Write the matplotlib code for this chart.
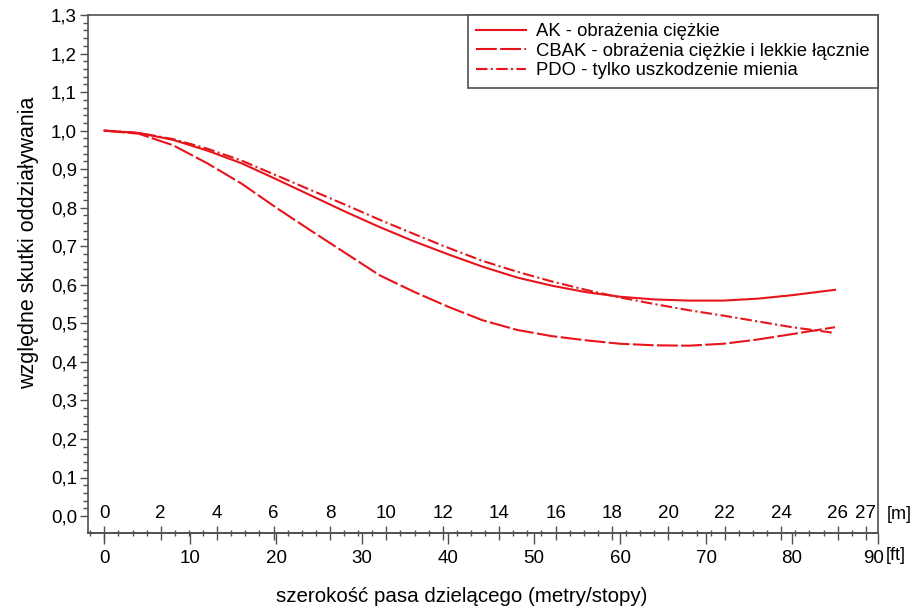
import matplotlib
matplotlib.use("Agg")
import matplotlib.pyplot as plt
import matplotlib.transforms as mtransforms
from matplotlib.ticker import FixedLocator, MultipleLocator, FuncFormatter

plt.rcParams['font.family'] = ['Liberation Sans', 'DejaVu Sans']

# median width in feet
width_ft = [0, 4, 8, 12, 16, 20, 24, 28, 32, 36, 40, 44, 48, 52, 56, 60, 64, 68, 72, 76, 80, 85]

ak = [1.000, 0.994, 0.976, 0.948, 0.915, 0.874, 0.832, 0.790, 0.750, 0.713, 0.679,
      0.647, 0.619, 0.598, 0.581, 0.569, 0.562, 0.559, 0.559, 0.564, 0.573, 0.587]
cbak = [1.000, 0.992, 0.962, 0.915, 0.862, 0.800, 0.741, 0.683, 0.625, 0.582, 0.543,
        0.508, 0.483, 0.467, 0.456, 0.447, 0.443, 0.442, 0.447, 0.458, 0.472, 0.490]
pdo = [1.000, 0.994, 0.978, 0.953, 0.922, 0.884, 0.846, 0.808, 0.769, 0.732, 0.696,
       0.662, 0.634, 0.609, 0.587, 0.567, 0.550, 0.534, 0.520, 0.505, 0.490, 0.475]

labels = ["AK - obrażenia ciężkie",
          "CBAK - obrażenia ciężkie i lekkie łącznie",
          "PDO - tylko uszkodzenie mienia"]

ft_ticks = [0, 10, 20, 30, 40, 50, 60, 70, 80, 90]
m_ticks = [0, 2, 4, 6, 8, 10, 12, 14, 16, 18, 20, 22, 24, 26, 27]
y_ticks = [0.0, 0.1, 0.2, 0.3, 0.4, 0.5, 0.6, 0.7, 0.8, 0.9, 1.0, 1.1, 1.2, 1.3]

FT_PER_M = 3.28084
red = "#e8141c"
spine_col = "#505050"
fs = 13.5

fig = plt.figure(figsize=(9.14, 6.10), dpi=100)
ax = fig.add_axes([88 / 914, 1 - 533 / 610, 790 / 914, 518 / 610])

ax.plot(width_ft, ak, color=red, lw=1.5, ls='-', label=labels[0])
ax.plot(width_ft, cbak, color=red, lw=1.5, ls=(0, (10, 1.6)), label=labels[1])
ax.plot(width_ft, pdo, color=red, lw=1.5, ls=(0, (5.5, 1.6, 1, 1.6)), label=labels[2])

ax.set_xlim(-1.9, 90)
ax.set_ylim(-0.044, 1.3)

for s in ax.spines.values():
    s.set_color(spine_col)
    s.set_linewidth(1.2)

# y axis
ax.yaxis.set_major_locator(FixedLocator(y_ticks))
ax.yaxis.set_minor_locator(FixedLocator([i * 0.02 for i in range(0, 66)]))
ax.yaxis.set_major_formatter(FuncFormatter(lambda v, p: f"{v:.1f}".replace('.', ',')))
ax.tick_params(axis='y', which='major', length=6, width=1, color=spine_col,
               labelsize=fs, pad=2)
ax.tick_params(axis='y', which='minor', length=3.5, width=1, color=spine_col)

# feet scale
ax.xaxis.set_major_locator(FixedLocator(ft_ticks))
ax.xaxis.set_minor_locator(FixedLocator([]))
ax.set_xticklabels([str(t) for t in ft_ticks])
ax.tick_params(axis='x', which='major', direction='out', length=8, width=1,
               color=spine_col, labelsize=fs, pad=4)
last = ax.get_xticklabels()[-1]
last.set_transform(last.get_transform() +
                   mtransforms.ScaledTranslation(-4 / 100, 0, fig.dpi_scale_trans))

# metre scale on the same baseline
sec = ax.secondary_xaxis(0.0, functions=(lambda f: f / FT_PER_M, lambda m: m * FT_PER_M))
sec.xaxis.set_major_locator(FixedLocator(m_ticks))
sec.xaxis.set_minor_locator(MultipleLocator(0.5))
sec.set_xticks(m_ticks)
sec.set_xticklabels([str(t) for t in m_ticks])
sec.tick_params(axis='x', which='major', direction='inout', length=10, width=1,
                color=spine_col, labelsize=fs, pad=-25)
sec.tick_params(axis='x', which='minor', direction='inout', length=5, width=1,
                color=spine_col)
sec.spines['bottom'].set_color(spine_col)
sec.spines['bottom'].set_linewidth(1.2)

ax.text(1.011, 0.035, "[m]", transform=ax.transAxes, fontsize=13, va='center', ha='left')
ax.text(1.010, -0.043, "[ft]", transform=ax.transAxes, fontsize=13, va='center', ha='left')

ax.set_xlabel("szerokość pasa dzielącego (metry/stopy)", fontsize=14.8)
ax.xaxis.set_label_coords(0.473, -0.104)
ax.set_ylabel("względne skutki oddziaływania", fontsize=15.5)
ax.yaxis.set_label_coords(-0.062, 0.56)

leg = ax.legend(loc='upper right', bbox_to_anchor=(1.0, 1.0), borderaxespad=0,
                fontsize=13.3, frameon=True, fancybox=False, framealpha=1,
                edgecolor=spine_col, handlelength=2.7, handletextpad=0.55,
                labelspacing=0.14, borderpad=0.45)
leg.get_frame().set_linewidth(1.2)

fig.savefig("out.png", dpi=100)
